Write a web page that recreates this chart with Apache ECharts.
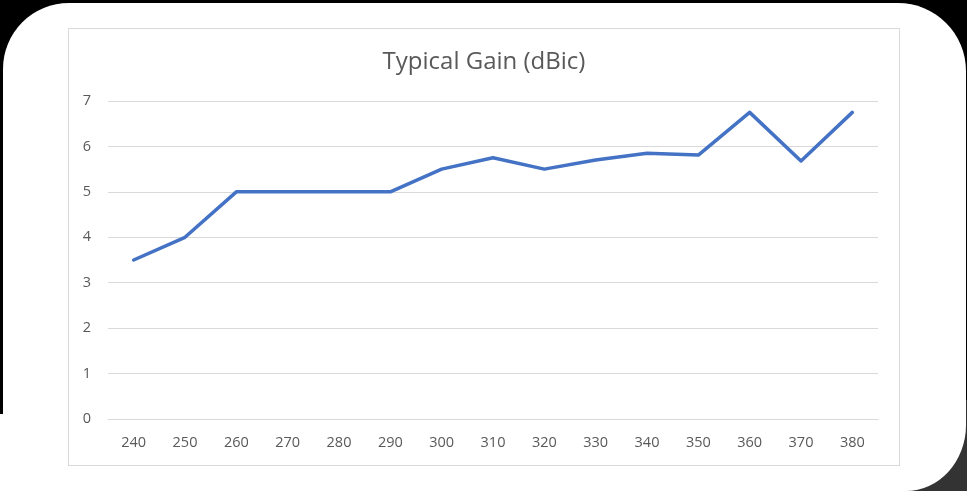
<!DOCTYPE html>
<html>
<head>
<meta charset="utf-8">
<script src="https://cdn.jsdelivr.net/npm/echarts@6/dist/echarts.min.js"></script>
<style>
  html, body { margin:0; padding:0; width:967px; height:491px; overflow:hidden; background:#000; }
  .gray { position:absolute; left:880px; top:400px; width:87px; height:91px; background:#333; }
  .card { position:absolute; left:3px; top:3px; width:963px; height:488px; background:#fff;
          border-radius:66px 68px 60px 0 / 66px 68px 66px 0; }
  .patch { position:absolute; left:0; top:414px; width:10px; height:77px; background:#fff; }
  .frame { position:absolute; left:68px; top:28px; width:832px; height:438px; box-sizing:border-box;
           border:1px solid #d9d9d9; background:#fff; }
  #chart { position:absolute; left:69px; top:29px; width:830px; height:436px; }
</style>
</head>
<body>
<div class="gray"></div>
<div class="card"></div>
<div class="patch"></div>
<div class="frame"></div>
<div id="chart"></div>
<script>
const titleText = 'Typical Gain (dBic)';
const categories = ['240','250','260','270','280','290','300','310','320','330','340','350','360','370','380'];
const gainValues = [3.5, 4.0, 5.0, 5.0, 5.0, 5.0, 5.5, 5.75, 5.5, 5.7, 5.85, 5.81, 6.75, 5.68, 6.75];
const yTicks = [0, 7, 1]; // min, max, interval

const chart = echarts.init(document.getElementById('chart'), null, { renderer: 'canvas' });
const font = '"Open Sans", Lato, sans-serif';
chart.setOption({
  animation: false,
  backgroundColor: 'transparent',
  title: {
    text: titleText, left: 'center', top: 16,
    textStyle: { fontFamily: font, fontSize: 24, fontWeight: 'normal', color: '#595959' }
  },
  grid: { left: 39, right: 21, top: 72, bottom: 46 },
  xAxis: {
    type: 'category', data: categories, boundaryGap: true,
    axisLine: { show: true, lineStyle: { color: '#d9d9d9', width: 1 } },
    axisTick: { show: false },
    axisLabel: { color: '#595959', fontFamily: font, fontSize: 14.5, margin: 16 }
  },
  yAxis: {
    type: 'value', min: yTicks[0], max: yTicks[1], interval: yTicks[2],
    axisLine: { show: false }, axisTick: { show: false },
    splitLine: { lineStyle: { color: '#d9d9d9', width: 1 } },
    axisLabel: { color: '#595959', fontFamily: font, fontSize: 14.5, margin: 17 }
  },
  series: [{
    type: 'line', data: gainValues, showSymbol: false, symbol: 'none',
    lineStyle: { color: '#4472C4', width: 3.5, join: 'round', cap: 'round' }
  }]
});
</script>
</body>
</html>
